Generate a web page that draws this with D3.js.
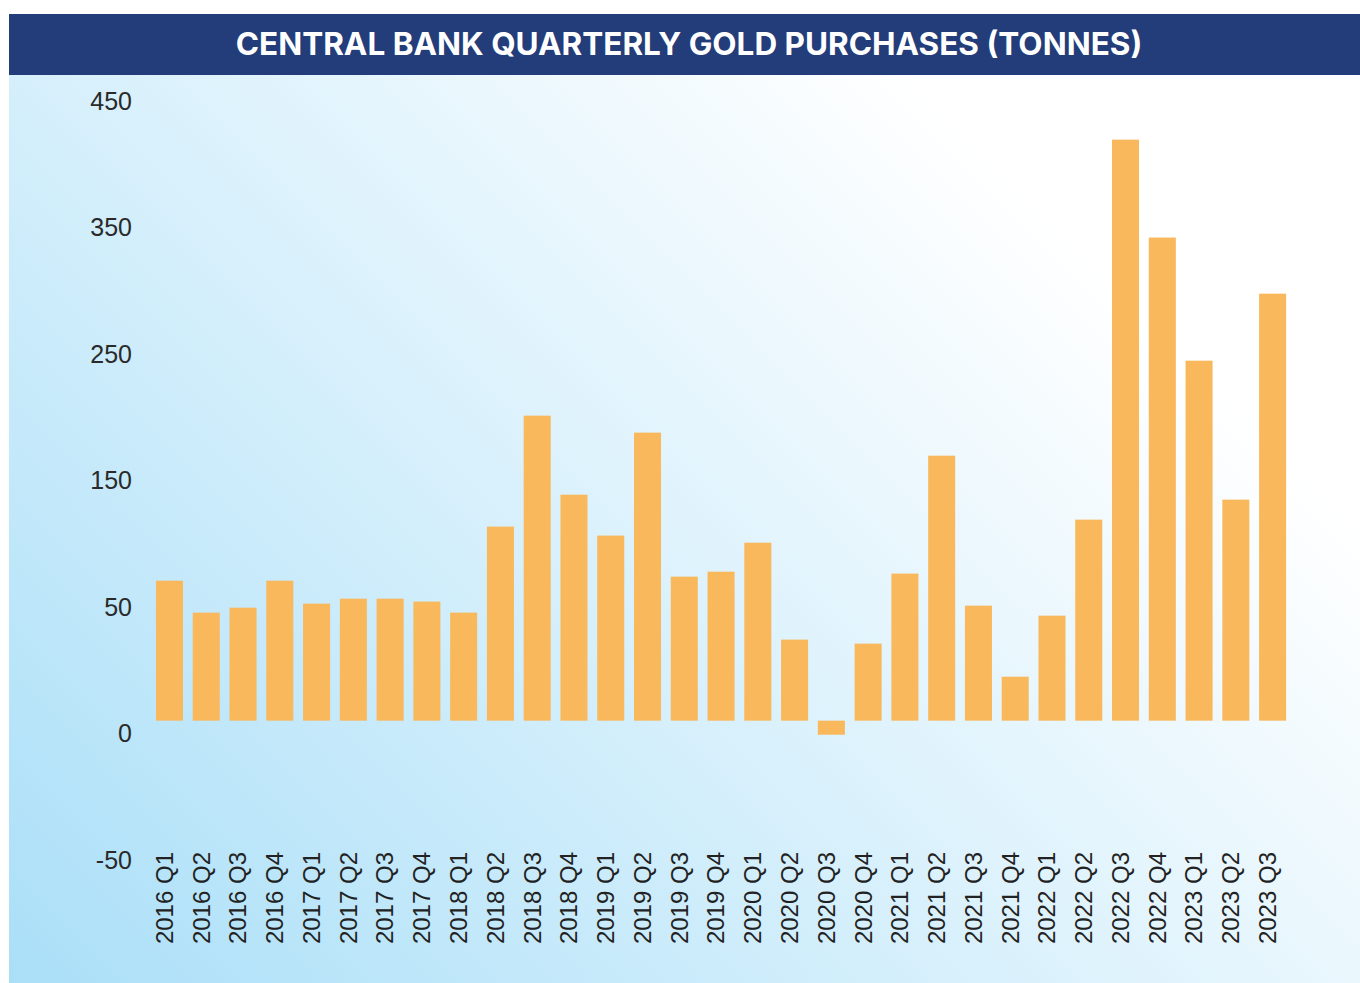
<!DOCTYPE html>
<html>
<head>
<meta charset="utf-8">
<script src="https://cdn.jsdelivr.net/npm/d3@7"></script>
<style>
  html, body { margin: 0; padding: 0; background: #ffffff; }
  svg { display: block; }
</style>
</head>
<body>
<svg id="chart" width="1360" height="983"></svg>
<script>
// ---- data ----
const categories = [
  "2016 Q1","2016 Q2","2016 Q3","2016 Q4",
  "2017 Q1","2017 Q2","2017 Q3","2017 Q4",
  "2018 Q1","2018 Q2","2018 Q3","2018 Q4",
  "2019 Q1","2019 Q2","2019 Q3","2019 Q4",
  "2020 Q1","2020 Q2","2020 Q3","2020 Q4",
  "2021 Q1","2021 Q2","2021 Q3","2021 Q4",
  "2022 Q1","2022 Q2","2022 Q3","2022 Q4",
  "2023 Q1","2023 Q2","2023 Q3"
];
const tonnes = [
  110.5, 85.3, 89.2, 110.5,
  92.4, 96.3, 96.3, 94.0,
  85.3, 153.2, 240.8, 178.4,
  146.1, 227.4, 113.7, 117.6,
  140.5, 64.0, -11.1, 60.8,
  116.1, 209.2, 90.8, 34.7,
  82.9, 158.7, 458.7, 381.4,
  284.2, 174.5, 337.1
];
const yTickLabels = ["450", "350", "250", "150", "50", "0", "-50"];
const titleText = "CENTRAL BANK QUARTERLY GOLD PURCHASES (TONNES)";

// ---- layout ----
const W = 1360, H = 983;
const panel = { x: 9, y: 75, w: 1351, h: 908 };
const banner = { x: 9, y: 14, w: 1351, h: 61 };

const svg = d3.select("#chart");

// background gradient
const defs = svg.append("defs");
const cx = panel.x + panel.w / 2, cy = panel.y + panel.h / 2;
const L = (panel.w + panel.h) / 2 * Math.SQRT1_2;
const grad = defs.append("linearGradient")
  .attr("id", "bg")
  .attr("gradientUnits", "userSpaceOnUse")
  .attr("x1", cx - L * Math.SQRT1_2).attr("y1", cy + L * Math.SQRT1_2)
  .attr("x2", cx + L * Math.SQRT1_2).attr("y2", cy - L * Math.SQRT1_2);
grad.append("stop").attr("offset", "0%").attr("stop-color", "#aadff8");
grad.append("stop").attr("offset", "80%").attr("stop-color", "#ffffff");
grad.append("stop").attr("offset", "100%").attr("stop-color", "#ffffff");

svg.append("rect").attr("width", W).attr("height", H).attr("fill", "#ffffff");
svg.append("rect")
  .attr("x", panel.x).attr("y", panel.y)
  .attr("width", panel.w).attr("height", panel.h)
  .attr("fill", "url(#bg)");

// banner + title
svg.append("rect")
  .attr("x", banner.x).attr("y", banner.y)
  .attr("width", banner.w).attr("height", banner.h)
  .attr("fill", "#233c7a");
svg.append("text")
  .attr("x", 689).attr("y", 55)
  .attr("text-anchor", "middle")
  .attr("fill", "#ffffff")
  .style("font-family", "Inter, 'Noto Sans', sans-serif")
  .style("font-weight", 700)
  .style("font-size", "31.5px")
  .text(titleText);

// ---- scales ----
const x = d3.scaleBand()
  .domain(categories)
  .range([151.1, 1291])
  .paddingInner(0.265)
  .paddingOuter(0.1325);

const y = d3.scaleLinear()
  .domain([-110, 490])
  .range([860, 100]);

const yLabelScale = d3.scalePoint()
  .domain(yTickLabels)
  .range([100.5, 859.7]);

// ---- bars ----
svg.append("g")
  .selectAll("rect")
  .data(categories.map((c, i) => ({ c, v: tonnes[i] })))
  .join("rect")
  .attr("x", d => x(d.c))
  .attr("width", x.bandwidth())
  .attr("y", d => y(Math.max(0, d.v)))
  .attr("height", d => Math.abs(y(d.v) - y(0)))
  .attr("fill", "#f9b85b");

// ---- y axis labels ----
const yAxis = d3.axisLeft(yLabelScale).tickSize(0).tickPadding(0);
const gy = svg.append("g")
  .attr("transform", "translate(132,0)")
  .call(yAxis);
gy.select(".domain").remove();
gy.selectAll("text")
  .attr("fill", "#2a2a2a")
  .attr("dy", "0.35em")
  .style("font-family", "'Liberation Sans', Arial, sans-serif")
  .style("font-size", "25px");

// ---- x axis labels (rotated) ----
const xAxis = d3.axisBottom(x).tickSize(0).tickPadding(0);
const gx = svg.append("g")
  .attr("transform", "translate(0,852)")
  .call(xAxis);
gx.select(".domain").remove();
gx.selectAll("text")
  .attr("transform", "rotate(-90)")
  .attr("text-anchor", "end")
  .attr("x", 0)
  .attr("y", 0)
  .attr("dy", "0.14em")
  .attr("fill", "#222222")
  .style("font-family", "'Liberation Sans', Arial, sans-serif")
  .style("font-size", "24px");
</script>
</body>
</html>
